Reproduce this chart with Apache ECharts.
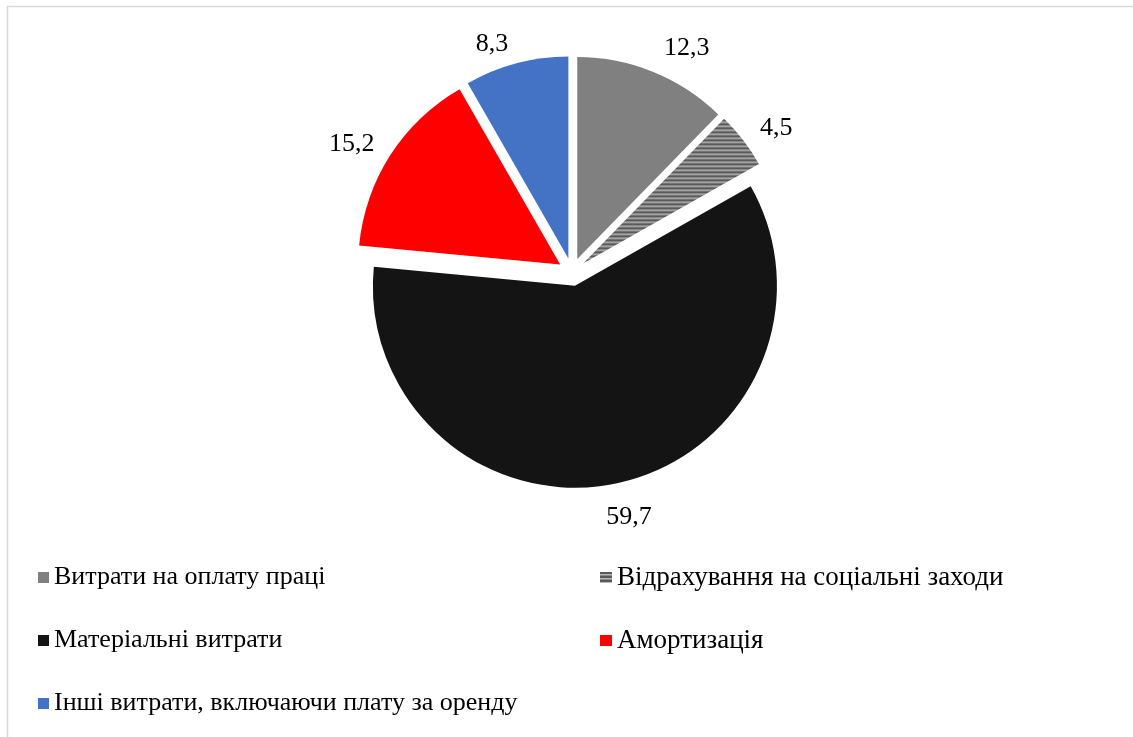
<!DOCTYPE html>
<html>
<head>
<meta charset="utf-8">
<script src="https://cdn.jsdelivr.net/npm/echarts@6/dist/echarts.min.js"></script>
<style>
  html, body { margin: 0; padding: 0; background: #ffffff; }
  #chart { width: 1133px; height: 737px; }
</style>
</head>
<body>
<div id="chart"></div>
<script>
// Cost structure, %
const categories = [
  'Витрати на оплату праці',
  'Відрахування на соціальні заходи',
  'Матеріальні витрати',
  'Амортизація',
  'Інші витрати, включаючи плату за оренду'
];
const values = [12.3, 4.5, 59.7, 15.2, 8.3];

// Horizontal stripe fill for the social contributions slice
function stripePattern() {
  const c = document.createElement('canvas');
  c.width = 4; c.height = 4;
  const g = c.getContext('2d');
  g.fillStyle = '#5a5a5a'; g.fillRect(0, 0, 4, 2);
  g.fillStyle = '#b8b8b8'; g.fillRect(0, 2, 4, 1);
  g.fillStyle = '#8c8c8c'; g.fillRect(0, 3, 4, 1);
  return { image: c, repeat: 'repeat' };
}

const colors = ['#808080', stripePattern(), '#141414', '#ff0000', '#4472c4'];
const font = '"Liberation Serif", "Times New Roman", serif';

// Small nudges of the value labels away from their default outside spot
const labelNudge = [
  { dx: -2, dy: -5 },
  { dx: -4, dy: 0 },
  { dx: -20, dy: 14 },
  { dx: 6, dy: 0 },
  { dx: 2, dy: 0 }
];

const data = categories.map((name, i) => ({
  name,
  value: values[i],
  selected: true,
  itemStyle: { color: colors[i] }
}));

const chart = echarts.init(document.getElementById('chart'), null, { renderer: 'canvas' });

const legendText = size => ({ fontFamily: font, fontSize: size, color: '#000', lineHeight: 31 });

chart.setOption({
  animation: false,
  backgroundColor: '#ffffff',
  graphic: [{
    type: 'rect',
    shape: { x: 7.5, y: 6.5, width: 1200, height: 800 },
    style: { fill: 'none', stroke: '#d9d9d9', lineWidth: 1.5 },
    silent: true
  }],
  legend: [
    {
      data: [categories[0], categories[2], categories[4]],
      orient: 'vertical',
      left: 33,
      top: 557,
      icon: 'rect',
      itemWidth: 11,
      itemHeight: 11,
      itemGap: 32,
      selectedMode: false,
      textStyle: legendText(26)
    },
    {
      data: [categories[1], categories[3]],
      orient: 'vertical',
      left: 595,
      top: 557,
      icon: 'rect',
      itemWidth: 12,
      itemHeight: 11,
      itemGap: 32,
      selectedMode: false,
      textStyle: legendText(27)
    }
  ],
  series: [{
    type: 'pie',
    center: [572, 272],
    radius: 202,
    startAngle: 90,
    clockwise: true,
    selectedMode: 'multiple',
    selectedOffset: 14,
    avoidLabelOverlap: false,
    emphasis: { disabled: true, scale: false },
    itemStyle: { borderWidth: 0 },
    label: {
      show: true,
      position: 'outside',
      fontFamily: font,
      fontSize: 26,
      color: '#000',
      formatter: p => p.value.toFixed(1).replace('.', ',')
    },
    labelLine: { show: false, length: 20, length2: 0 },
    labelLayout: p => labelNudge[p.dataIndex],
    data
  }]
});
</script>
</body>
</html>
